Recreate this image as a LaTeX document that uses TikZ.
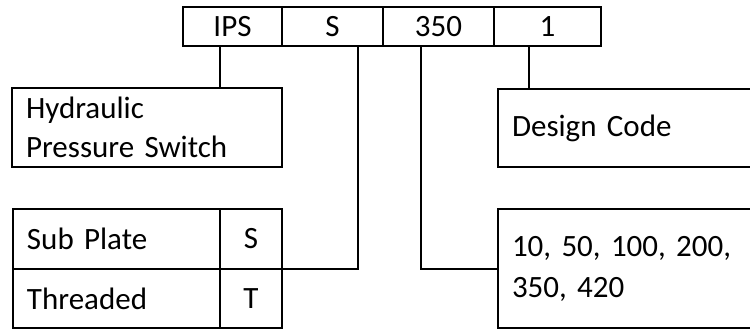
\documentclass[tikz,border=0pt]{standalone}
\usepackage{fontspec}
\setmainfont{Carlito}
\begin{document}
\begin{tikzpicture}[x=1pt,y=-1pt,
  lw/.style={line width=2pt},
  txt/.style={font=\fontsize{31}{39}\selectfont},
  cell/.style={draw, lw, txt, inner sep=0pt, outer sep=0pt, anchor=center},
  tbox/.style={draw, lw, txt, inner ysep=0pt, inner xsep=14pt, outer sep=0pt, align=left, anchor=center},
  link/.style={draw, lw, line cap=rect}]
\useasboundingbox (0,0) rectangle (750,329);
\clip (0,0) rectangle (750,329);
% top code row
\node[cell, minimum width=99pt, minimum height=39pt] (ips) at (232.5,26.5) {IPS};
\node[cell, minimum width=101pt, minimum height=39pt] (s) at (332.5,26.5) {S};
\node[cell, minimum width=111pt, minimum height=39pt] (p) at (438.5,26.5) {350};
\node[cell, minimum width=107pt, minimum height=39pt] (d) at (547.5,26.5) {1};
% description boxes
\node[tbox, text width=242pt, minimum height=79pt] (hyd) at (147,127.5) {Hydraulic\\Pressure Switch};
\node[tbox, text width=274pt, minimum height=78pt] (des) at (649,128) {Design Code};
\node[tbox, text width=274pt, minimum height=119pt, font=\fontsize{31}{41}\selectfont] (num) at (649,268.5) {10, 50, 100, 200,\\350, 420};
% option table
\node[cell, minimum width=207pt, minimum height=60pt, align=left, text width=179pt, inner xsep=14pt] (subA) at (116.5,239) {Sub Plate};
\node[cell, minimum width=62pt, minimum height=60pt] (subB) at (251,239) {S};
\node[cell, minimum width=207pt, minimum height=59pt, align=left, text width=179pt, inner xsep=14pt] (thrA) at (116.5,298.5) {Threaded};
\node[cell, minimum width=62pt, minimum height=59pt] (thrB) at (251,298.5) {T};
% connectors
\coordinate (c1) at ([xshift=-12.5pt]ips.south);
\coordinate (c2) at ([xshift=25.5pt]s.south);
\coordinate (c3) at ([xshift=-17.5pt]p.south);
\coordinate (c4) at ([xshift=-18.5pt]d.south);
\draw[link] (c1) -- (c1 |- hyd.north);
\draw[link] (c2) -- (c2 |- subB.south east) -- (subB.south east);
\draw[link] (c3) -- (c3 |- num.west) -- (num.west);
\draw[link] (c4) -- (c4 |- des.north);
\end{tikzpicture}
\end{document}
